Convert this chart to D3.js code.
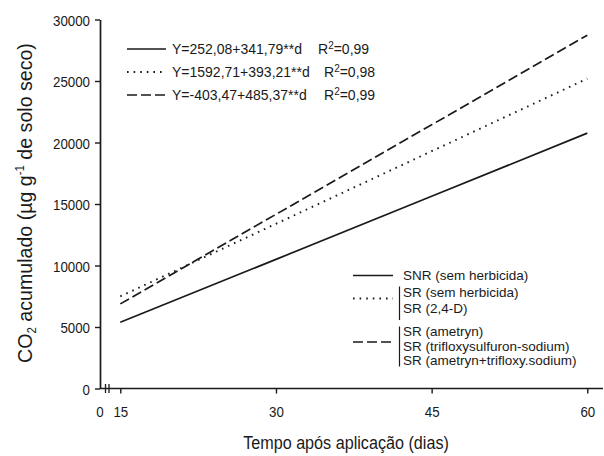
<!DOCTYPE html>
<html><head><meta charset="utf-8">
<script src="https://cdn.jsdelivr.net/npm/d3@7"></script>
<style>
html,body{margin:0;padding:0;background:#fff;}
svg{display:block;font-family:"Liberation Sans",Arial,Helvetica,sans-serif;}
</style></head>
<body><svg id="c" width="604" height="456"></svg>
<script>
// ---- data ----
const days = [15, 30, 45, 60];
const snrSemHerbicida = [5380, 10500, 15630, 20760];          // solid
const srSemHerbicida24D = [7490, 13390, 19290, 25190];         // dotted
const srAmetrynTriflox = [6880, 14160, 21440, 28720];          // dashed
const yTickValues = [0, 5000, 10000, 15000, 20000, 25000, 30000];
const xTickValues = [15, 30, 45, 60];
const equations = ["Y=252,08+341,79**d", "Y=1592,71+393,21**d", "Y=-403,47+485,37**d"];
const r2Values = ["0,99", "0,98", "0,99"];
const legendSolid = ["SNR (sem herbicida)"];
const legendDotted = ["SR (sem herbicida)", "SR (2,4-D)"];
const legendDashed = ["SR (ametryn)", "SR (trifloxysulfuron-sodium)", "SR (ametryn+trifloxy.sodium)"];
const xTitle = "Tempo após aplicação (dias)";

// ---- styles ----
const INK = "#1a1a1a";
const DOT = "1.6,5";
const DASH = "10,4";
const series = [
  {v: snrSemHerbicida, dash: null},
  {v: srSemHerbicida24D, dash: DOT},
  {v: srAmetrynTriflox, dash: DASH}
];

const svg = d3.select("#c");
const x = d3.scaleLinear().domain([15, 60]).range([120.3, 587.3]);
const y = d3.scaleLinear().domain([0, 30000]).range([388.5, 19.5]);
const axisX0 = 100;

// Y axis
const gy = svg.append("g").attr("transform", `translate(${axisX0},0)`)
  .call(d3.axisLeft(y).tickValues(yTickValues).tickSize(5).tickSizeOuter(0).tickFormat(d3.format("d")));
gy.select(".domain").attr("stroke", INK).attr("stroke-width", 1.7);
gy.selectAll(".tick line").attr("stroke", INK).attr("stroke-width", 1.4);
gy.selectAll(".tick text").attr("x", null).attr("dy", null)
  .attr("text-anchor", "end").attr("fill", INK).attr("font-size", 15.5)
  .attr("font-family", null)
  .attr("transform", "translate(-10,5.5) scale(0.86,1)");

// X axis
const gx = svg.append("g").attr("transform", `translate(0,${y(0)})`)
  .call(d3.axisBottom(x).tickValues(xTickValues).tickSize(5).tickSizeOuter(0));
gx.select(".domain").remove();
gx.selectAll(".tick line").attr("stroke", INK).attr("stroke-width", 1.4);
gx.selectAll(".tick text").attr("y", null).attr("dy", null)
  .attr("text-anchor", "middle").attr("fill", INK).attr("font-size", 15.5)
  .attr("font-family", null)
  .attr("transform", "translate(0,28) scale(0.86,1)");
gx.append("line").attr("x1", axisX0).attr("x2", 603).attr("y1", 0).attr("y2", 0)
  .attr("stroke", INK).attr("stroke-width", 1.7);
// axis break marks
[105.5, 109].forEach(bx => {
  gx.append("line").attr("x1", bx).attr("x2", bx).attr("y1", -4.5).attr("y2", 4.5)
    .attr("stroke", INK).attr("stroke-width", 1.3);
});
gx.append("text").attr("text-anchor", "middle").attr("fill", INK).attr("font-size", 15.5)
  .attr("transform", `translate(${axisX0},28) scale(0.86,1)`).text("0");

// Lines
const line = d3.line().x((d, i) => x(days[i])).y(d => y(d));
series.forEach(s => {
  svg.append("path").datum(s.v).attr("d", line).attr("fill", "none")
    .attr("stroke", INK).attr("stroke-width", s.dash === DOT ? 1.9 : 1.7)
    .attr("stroke-dasharray", s.dash);
});

// Equation legend (top left)
const eqRowsY = [49, 72, 95];
const rX = [318, 324, 324];
equations.forEach((eq, i) => {
  const s = series[i];
  svg.append("line").attr("x1", 127).attr("x2", 166).attr("y1", eqRowsY[i]).attr("y2", eqRowsY[i])
    .attr("stroke", INK).attr("stroke-width", s.dash === DOT ? 1.9 : 1.7).attr("stroke-dasharray", s.dash);
  svg.append("text").attr("x", 172).attr("y", eqRowsY[i] + 5).attr("font-size", 14).attr("fill", INK).text(eq);
  const t = svg.append("text").attr("x", rX[i]).attr("y", eqRowsY[i] + 5).attr("font-size", 14).attr("fill", INK);
  t.append("tspan").text("R");
  t.append("tspan").attr("font-size", 10).attr("dy", -5.5).text("2");
  t.append("tspan").attr("dy", 5.5).text("=" + r2Values[i]);
});

// Lower-right legend
const legX1 = 353, legX2 = 393, txtX = 403, LF = 13.5;
function legText(str, yc) {
  svg.append("text").attr("x", txtX).attr("y", yc + 4.8).attr("font-size", LF).attr("fill", INK).text(str);
}
// solid
svg.append("line").attr("x1", legX1).attr("x2", legX2).attr("y1", 275.5).attr("y2", 275.5)
  .attr("stroke", INK).attr("stroke-width", 1.7);
legendSolid.forEach((t, i) => legText(t, 275.5));
// dotted
svg.append("line").attr("x1", legX1).attr("x2", legX2).attr("y1", 298.5).attr("y2", 298.5)
  .attr("stroke", INK).attr("stroke-width", 1.9).attr("stroke-dasharray", DOT);
svg.append("line").attr("x1", 399.5).attr("x2", 399.5).attr("y1", 286.5).attr("y2", 320)
  .attr("stroke", INK).attr("stroke-width", 1.2);
legendDotted.forEach((t, i) => legText(t, 292 + i * 16));
// dashed
svg.append("line").attr("x1", legX1).attr("x2", legX2).attr("y1", 342).attr("y2", 342)
  .attr("stroke", INK).attr("stroke-width", 1.7).attr("stroke-dasharray", DASH);
svg.append("line").attr("x1", 399.5).attr("x2", 399.5).attr("y1", 326.5).attr("y2", 366.5)
  .attr("stroke", INK).attr("stroke-width", 1.2);
legendDashed.forEach((t, i) => legText(t, 331.5 + i * 14.5));

// Axis titles (scaled horizontally to match the reference's narrow lettering)
const xt = svg.append("text").attr("text-anchor", "middle").attr("font-size", 18.5).attr("fill", INK).text(xTitle);
const xtLen = xt.node().getBBox().width;
xt.attr("transform", `translate(346,449) scale(${206 / xtLen},1)`);

const yt = svg.append("text").attr("text-anchor", "middle").attr("font-size", 20.5).attr("fill", INK);
yt.append("tspan").text("CO");
yt.append("tspan").attr("font-size", 12).attr("dy", 4).text("2");
yt.append("tspan").attr("dy", -4).text(" acumulado (µg g");
yt.append("tspan").attr("font-size", 12).attr("dy", -8).text("-1");
yt.append("tspan").attr("dy", 8).text(" de solo seco)");
// fit the rotated title between y=43 and y=363 using its on-screen box
const yTop = 43, yBot = 363;
yt.attr("transform", `translate(32,203) rotate(-90)`);
let r = yt.node().getBoundingClientRect();
const sy = (yBot - yTop) / r.height;
yt.attr("transform", `translate(32,203) rotate(-90) scale(${sy},1)`);
r = yt.node().getBoundingClientRect();
const shift = (yTop + yBot) / 2 - (r.top + r.bottom) / 2;
yt.attr("transform", `translate(32,${203 + shift}) rotate(-90) scale(${sy},1)`);
</script>
</body></html>
